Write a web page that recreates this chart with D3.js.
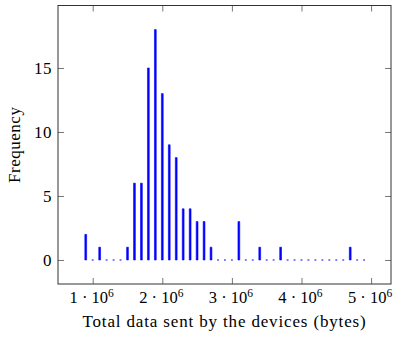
<!DOCTYPE html>
<html>
<head>
<meta charset="utf-8">
<script src="https://cdn.jsdelivr.net/npm/d3@7"></script>
<style>
  body { margin: 0; background: #fff; }
  svg text { font-family: "Liberation Serif", serif; fill: #000; }
</style>
</head>
<body>
<svg id="chart" width="393" height="338"></svg>
<script>
// Histogram bins (centre of each 100 kB bin, in bytes) and device counts
const binCenters = [
  0.9e6, 1.0e6, 1.1e6, 1.2e6, 1.3e6, 1.4e6, 1.5e6, 1.6e6, 1.7e6, 1.8e6,
  1.9e6, 2.0e6, 2.1e6, 2.2e6, 2.3e6, 2.4e6, 2.5e6, 2.6e6, 2.7e6, 2.8e6,
  2.9e6, 3.0e6, 3.1e6, 3.2e6, 3.3e6, 3.4e6, 3.5e6, 3.6e6, 3.7e6, 3.8e6,
  3.9e6, 4.0e6, 4.1e6, 4.2e6, 4.3e6, 4.4e6, 4.5e6, 4.6e6, 4.7e6, 4.8e6,
  4.9e6
];
const frequencies = [
  2, 0, 1, 0, 0, 0, 1, 6, 6, 15,
  18, 13, 9, 8, 4, 4, 3, 3, 1, 0,
  0, 0, 3, 0, 0, 1, 0, 0, 1, 0,
  0, 0, 0, 0, 0, 0, 0, 0, 1, 0,
  0
];
const xTickValues = [1e6, 2e6, 3e6, 4e6, 5e6];
const yTickValues = [0, 5, 10, 15];
const xLabel = "Total data sent by the devices (bytes)";
const yLabel = "Frequency";

const frame = { left: 58, right: 391, top: 5.5, bottom: 284 };
const tickLen = 6;
const fontSize = 17;
const spacing = 0.85;

const svg = d3.select("#chart");

const x = d3.scaleLinear()
  .domain([0.5014e6, 5.286e6])
  .range([frame.left, frame.right]);
const y = d3.scaleLinear()
  .domain([-1.875, 19.88])
  .range([frame.bottom, frame.top]);

// Bars as closed outlines, so empty bins still show a short stroke on the baseline
const barWidth = 1.8;
svg.append("g")
  .selectAll("path")
  .data(binCenters.map((c, i) => ({ c, v: frequencies[i] })))
  .join("path")
  .attr("d", d => {
    const p = d3.path();
    p.rect(x(d.c) - barWidth / 2, y(d.v), barWidth, y(0) - y(d.v));
    return p.toString();
  })
  .attr("fill", "#0000ff")
  .attr("stroke", "#0000ff")
  .attr("stroke-width", 0.6);

// Axes with inward ticks on all four sides
function styleAxis(g) {
  g.attr("font-family", null).attr("font-size", null);
  g.select(".domain").remove();
  g.selectAll(".tick line").attr("stroke", "#777").attr("stroke-width", 1);
}

const bottom = svg.append("g")
  .attr("transform", `translate(0,${frame.bottom})`)
  .call(d3.axisBottom(x).tickValues(xTickValues).tickSizeInner(-tickLen).tickSizeOuter(0).tickFormat(""))
  .call(styleAxis);

bottom.selectAll(".tick text").remove();
bottom.selectAll(".tick").each(function (d) {
  const t = d3.select(this).append("text")
    .attr("x", -1.5)
    .attr("y", 19.3)
    .attr("text-anchor", "middle")
    .attr("font-size", 16.5);
  t.append("tspan").text(`${d / 1e6} \u00b7 10`);
  t.append("tspan").attr("dy", -6.5).attr("font-size", 11.5).text("6");
});

svg.append("g")
  .attr("transform", `translate(0,${frame.top})`)
  .call(d3.axisTop(x).tickValues(xTickValues).tickSizeInner(-tickLen).tickSizeOuter(0).tickFormat(""))
  .call(styleAxis);

const left = svg.append("g")
  .attr("transform", `translate(${frame.left},0)`)
  .call(d3.axisLeft(y).tickValues(yTickValues).tickSizeInner(-tickLen).tickSizeOuter(0).tickPadding(6.3))
  .call(styleAxis);
left.selectAll(".tick text")
  .attr("font-size", fontSize)
  .attr("fill", "#000")
  .attr("dy", "0.33em")
  .attr("letter-spacing", 0.3);

svg.append("g")
  .attr("transform", `translate(${frame.right},0)`)
  .call(d3.axisRight(y).tickValues(yTickValues).tickSizeInner(-tickLen).tickSizeOuter(0).tickFormat(""))
  .call(styleAxis);

// Frame
svg.append("rect")
  .attr("x", frame.left)
  .attr("y", frame.top)
  .attr("width", frame.right - frame.left)
  .attr("height", frame.bottom - frame.top)
  .attr("fill", "none")
  .attr("stroke", "#333")
  .attr("stroke-width", 1);

// Axis titles
svg.append("text")
  .attr("x", (frame.left + frame.right) / 2)
  .attr("y", 327.3)
  .attr("text-anchor", "middle")
  .attr("font-size", fontSize)
  .attr("letter-spacing", spacing)
  .text(xLabel);

svg.append("text")
  .attr("transform", `translate(19.5,${(frame.top + frame.bottom) / 2}) rotate(-90)`)
  .attr("text-anchor", "middle")
  .attr("font-size", fontSize)
  .attr("letter-spacing", 0.5)
  .text(yLabel);
</script>
</body>
</html>
